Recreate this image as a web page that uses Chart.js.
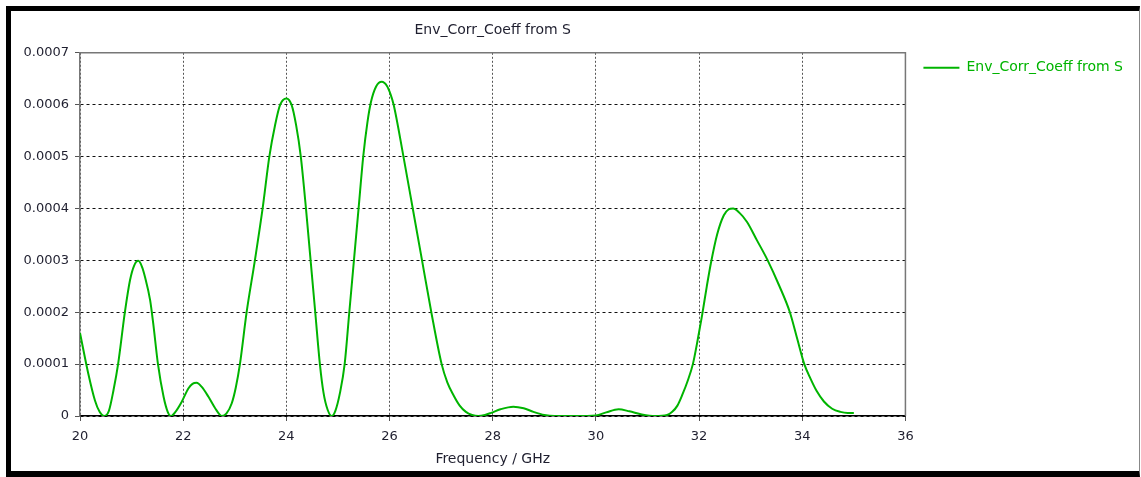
<!DOCTYPE html>
<html>
<head>
<meta charset="utf-8">
<script src="https://cdn.jsdelivr.net/npm/chart.js@4/dist/chart.umd.min.js"></script>
<style>
  html, body { margin: 0; padding: 0; background: #fff; }
  .frame {
    position: absolute; left: 6px; top: 6px;
    width: 1134px; height: 471px; box-sizing: border-box;
    border-left: 5px solid #000; border-top: 5px solid #000;
    border-bottom: 6px solid #000; border-right: 1px solid #888;
  }
  #env_chart { position: absolute; left: 0; top: 0; }
</style>
</head>
<body>
<div class="frame"></div>
<canvas id="env_chart" width="1141" height="477"></canvas>
<script>
// frequency in GHz
let freq = [
  20.00, 20.16, 20.29, 20.38, 20.47, 20.56, 20.65, 20.74, 20.87, 20.97,
  21.05, 21.13, 21.20, 21.26, 21.36, 21.42, 21.51, 21.62, 21.70, 21.76,
  21.85, 21.97, 22.10, 22.18, 22.26, 22.36, 22.49, 22.62, 22.75, 22.84,
  22.94, 23.02, 23.10, 23.23, 23.39, 23.54, 23.67, 23.78, 23.88, 24.00,
  24.10, 24.19, 24.28, 24.38, 24.47, 24.56, 24.65, 24.72, 24.80, 24.88,
  24.95, 25.04, 25.13, 25.22, 25.31, 25.40, 25.49, 25.57, 25.64, 25.74,
  25.85, 25.95, 26.02, 26.08, 26.27, 26.45, 26.63, 26.81, 27.01, 27.12,
  27.24, 27.36, 27.48, 27.60, 27.72, 27.85, 27.97, 28.15, 28.40, 28.60,
  28.79, 29.00, 29.20, 29.60, 30.00, 30.20, 30.44, 30.65, 30.89, 31.15,
  31.38, 31.48, 31.58, 31.68, 31.78, 31.88, 31.97, 32.06, 32.15, 32.23,
  32.35, 32.48, 32.57, 32.66, 32.78, 32.93, 33.12, 33.33, 33.55, 33.76,
  33.90, 34.04, 34.16, 34.28, 34.42, 34.58, 34.74, 34.88, 35.00
];

let env_corr = [
  0.000160, 0.000082, 0.000030, 0.000008, 0.000000, 0.000010, 0.000050, 0.000101, 0.000200, 0.000262,
  0.000290, 0.000299, 0.000288, 0.000268, 0.000223, 0.000178, 0.000101, 0.000037, 0.000008, 0.000000,
  0.000008, 0.000027, 0.000053, 0.000062, 0.000064, 0.000056, 0.000037, 0.000015, 0.000000, 0.000005,
  0.000024, 0.000055, 0.000100, 0.000200, 0.000300, 0.000400, 0.000500, 0.000560, 0.000600, 0.000612,
  0.000600, 0.000560, 0.000500, 0.000400, 0.000300, 0.000200, 0.000100, 0.000045, 0.000012, 0.000000,
  0.000010, 0.000045, 0.000100, 0.000200, 0.000300, 0.000400, 0.000500, 0.000565, 0.000605, 0.000635,
  0.000644, 0.000636, 0.000620, 0.000600, 0.000500, 0.000400, 0.000300, 0.000200, 0.000100, 0.000065,
  0.000040, 0.000020, 0.000008, 0.000002, 0.000000, 0.000002, 0.000006, 0.000013, 0.000018, 0.000015,
  0.000008, 0.000002, 0.000000, 0.000000, 0.000001, 0.000007, 0.000013, 0.000009, 0.000003, 0.000000,
  0.000002, 0.000008, 0.000020, 0.000042, 0.000068, 0.000100, 0.000145, 0.000195, 0.000250, 0.000295,
  0.000350, 0.000387, 0.000398, 0.000400, 0.000392, 0.000374, 0.000339, 0.000300, 0.000252, 0.000200,
  0.000150, 0.000100, 0.000072, 0.000048, 0.000028, 0.000014, 0.000008, 0.000006, 0.000006
];

let x_ticks = [20, 22, 24, 26, 28, 30, 32, 34, 36];
let y_ticks = [0, 0.0001, 0.0002, 0.0003, 0.0004, 0.0005, 0.0006, 0.0007];
let y_tick_labels = ['0', '0.0001', '0.0002', '0.0003', '0.0004', '0.0005', '0.0006', '0.0007'];

const series_name = 'Env_Corr_Coeff from S';
const green = 'rgb(0, 180, 0)';
const text_color = '#1f1f2f';
const tick_font = { family: 'DejaVu Sans', size: 13 };
const label_font = { family: 'DejaVu Sans', size: 14 };

// grey line on the top and right side of the plot
const plot_frame = {
    id: 'plot_frame',
    beforeDatasetsDraw(chart) {
        let a = chart.chartArea;
        let ctx = chart.ctx;
        ctx.save();
        ctx.strokeStyle = '#777';
        ctx.lineWidth = 1.5;
        ctx.beginPath();
        ctx.moveTo(a.left, a.top);
        ctx.lineTo(a.right, a.top);
        ctx.lineTo(a.right, a.bottom);
        ctx.stroke();
        ctx.restore();
    }
};

let points = freq.map((f, i) => ({ x: f, y: env_corr[i] }));

let ctx = document.getElementById('env_chart').getContext('2d');

new Chart(ctx, {
    type: 'line',
    data: {
        datasets: [{
            label: series_name,
            data: points,
            borderColor: green,
            backgroundColor: green,
            borderWidth: 2,
            pointRadius: 0,
            fill: false,
            cubicInterpolationMode: 'monotone'
        }]
    },
    options: {
        responsive: false,
        animation: false,
        layout: { padding: { left: 0, right: 8, top: 0, bottom: 0 } },
        plugins: {
            title: {
                display: true,
                text: series_name,
                fullSize: false,
                color: text_color,
                font: { ...label_font, weight: 'normal' },
                padding: { top: 22, bottom: 14 }
            },
            legend: {
                position: 'right',
                align: 'start',
                // empty title only pushes the entry down
                title: { display: true, text: ' ', font: label_font, padding: { top: 26, bottom: 0 } },
                labels: {
                    usePointStyle: true,
                    pointStyle: 'line',
                    pointStyleWidth: 36,
                    color: green,
                    font: label_font,
                    padding: 18
                }
            },
            tooltip: { enabled: false }
        },
        scales: {
            x: {
                type: 'linear',
                min: 20,
                max: 36,
                afterBuildTicks: (s) => { s.ticks = x_ticks.map(v => ({ value: v })); },
                afterFit: (s) => { s.height = 61; },
                ticks: { color: text_color, font: tick_font, padding: 8 },
                grid: {
                    color: '#555',
                    tickLength: 5,
                    tickBorderDash: [],
                    tickColor: '#555'
                },
                border: { color: '#000', width: 1.5, dash: [2, 2] },
                title: {
                    display: true,
                    text: 'Frequency / GHz',
                    color: text_color,
                    font: label_font,
                    padding: { top: 0, bottom: 9 }
                }
            },
            y: {
                min: 0,
                max: 0.0007,
                afterBuildTicks: (s) => { s.ticks = y_ticks.map(v => ({ value: v })); },
                afterFit: (s) => { s.width = 80; },
                ticks: {
                    color: text_color,
                    font: tick_font,
                    padding: 6,
                    callback: (v, i) => y_tick_labels[i]
                },
                grid: {
                    color: '#111',
                    tickLength: 5,
                    tickBorderDash: [],
                    tickColor: '#555'
                },
                border: { color: '#777', width: 1.5, dash: [3, 3] }
            }
        }
    },
    plugins: [plot_frame]
});
</script>
</body>
</html>
